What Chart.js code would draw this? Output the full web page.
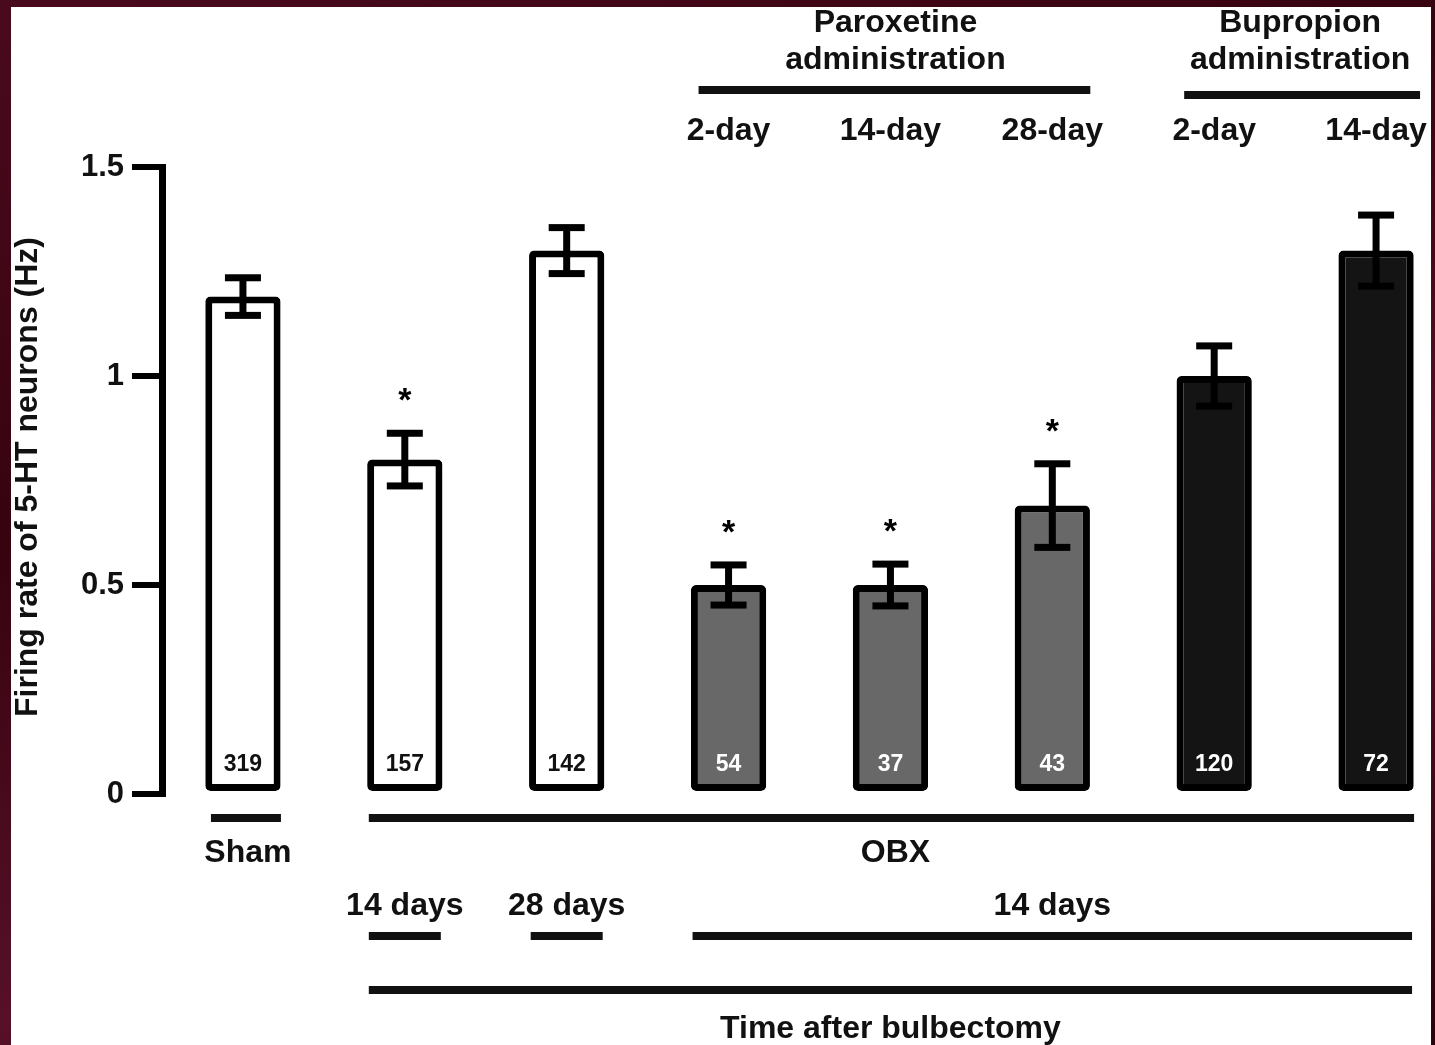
<!DOCTYPE html>
<html>
<head>
<meta charset="utf-8">
<script src="https://cdn.jsdelivr.net/npm/chart.js@4"></script>
<style>
  html, body {
    margin: 0;
    padding: 0;
    width: 1435px;
    height: 1045px;
    overflow: hidden;
    background: linear-gradient(160deg, #4a0a1e 0%, #37030f 35%, #561028 65%, #2c020c 100%);
  }
  #panel {
    position: absolute;
    left: 11px;
    top: 7px;
    width: 1420px;
    height: 1038px;
    background: #fff;
    overflow: hidden;
  }
  canvas { display: block; }
</style>
</head>
<body>
<div id="panel"><canvas id="myChart" width="1460" height="1038" style="width:1460px;height:1038px"></canvas></div>
<script>
// groups along the x axis
const groups = ["Sham", "OBX 14 days", "OBX 28 days", "Paroxetine 2-day", "Paroxetine 14-day", "Paroxetine 28-day", "Bupropion 2-day", "Bupropion 14-day"];
const treatment = ["none", "none", "none", "paroxetine", "paroxetine", "paroxetine", "bupropion", "bupropion"];
const firingRate = [1.19, 0.80, 1.30, 0.50, 0.50, 0.69, 1.00, 1.30];
const sem = [0.045, 0.063, 0.055, 0.048, 0.05, 0.10, 0.072, 0.085];
const neuronCount = [319, 157, 142, 54, 37, 43, 120, 72];
const significant = [false, true, false, true, true, true, false, false];
const durationLabels = ["", "", "", "2-day", "14-day", "28-day", "2-day", "14-day"];
const yTicks = [0, 0.5, 1, 1.5];

// bracket labels: [text lines, first group, last group]
const drugBrackets = [[["Paroxetine", "administration"], 3, 5], [["Bupropion", "administration"], 6, 7]];
const surgeryBrackets = [["Sham", 0, 0], ["OBX", 1, 7]];
const timeBrackets = [["14 days", 1, 1], ["28 days", 2, 2], ["14 days", 3, 7]];
const timeTitle = ["Time after bulbectomy", 1, 7];

const fills = { none: "#ffffff", paroxetine: "#686868", bupropion: "#141414" };
const FONT = "Liberation Sans, Arial, sans-serif";

function hline(ctx, x1, x2, y, w) {
  ctx.fillRect(x1, y - w / 2, x2 - x1, w);
}

const annotations = {
  id: "annotations",
  afterDatasetsDraw(chart) {
    const ctx = chart.ctx;
    const yScale = chart.scales.y;
    const bars = chart.getDatasetMeta(0).data;
    const cx = i => bars[i].x;
    const half = 36;

    ctx.save();
    ctx.fillStyle = "#000";

    // error bars
    firingRate.forEach((v, i) => {
      const top = yScale.getPixelForValue(v + sem[i]);
      const bot = yScale.getPixelForValue(v - sem[i]);
      ctx.fillRect(cx(i) - 3.5, top, 7, bot - top);
      hline(ctx, cx(i) - 18, cx(i) + 18, top, 7);
      hline(ctx, cx(i) - 18, cx(i) + 18, bot, 7);
    });

    // significance stars
    ctx.font = "bold 34px " + FONT;
    ctx.textAlign = "center";
    ctx.textBaseline = "alphabetic";
    significant.forEach((s, i) => {
      if (!s) return;
      const y = yScale.getPixelForValue(firingRate[i] + sem[i] + 0.1);
      ctx.fillText("*", cx(i), y + 20);
    });

    // neuron counts inside bars
    ctx.font = "bold 23px " + FONT;
    ctx.textBaseline = "middle";
    neuronCount.forEach((n, i) => {
      ctx.fillStyle = treatment[i] === "none" ? "#111" : "#fff";
      ctx.fillText(String(n), cx(i), yScale.getPixelForValue(0.07));
    });
    ctx.fillStyle = "#111";

    // drug administration brackets (top)
    ctx.font = "bold 32px " + FONT;
    drugBrackets.forEach(([lines, a, b], k) => {
      const mid = (cx(a) + cx(b)) / 2 + 5;
      ctx.fillText(lines[0], mid, 16);
      ctx.fillText(lines[1], mid, 53);
      hline(ctx, cx(a) - half + 6, cx(b) + half + (k ? 8 : 2), k ? 88 : 83, 8);
    });
    durationLabels.forEach((t, i) => {
      if (t) ctx.fillText(t, cx(i), 124);
    });

    // surgery brackets
    surgeryBrackets.forEach(([t, a, b]) => {
      hline(ctx, cx(a) - half + (a ? 0 : 4), cx(b) + half + 2, 811, 8);
      ctx.fillText(t, (cx(a) + cx(b)) / 2 + 5, 846);
    });

    // time after surgery
    timeBrackets.forEach(([t, a, b]) => {
      ctx.fillText(t, (cx(a) + cx(b)) / 2, 899);
      hline(ctx, cx(a) - half, cx(b) + half, 929, 8);
    });
    hline(ctx, cx(timeTitle[1]) - half, cx(timeTitle[2]) + half, 983, 8);
    ctx.fillText(timeTitle[0], (cx(timeTitle[1]) + cx(timeTitle[2])) / 2, 1022);

    // y axis title
    ctx.translate(17, 470);
    ctx.rotate(-Math.PI / 2);
    ctx.fillText("Firing rate of 5-HT neurons (Hz)", 0, 0);
    ctx.restore();
  }
};

const ctx = document.getElementById("myChart").getContext("2d");

const chart = new Chart(ctx, {
  type: "bar",
  data: {
    labels: groups,
    datasets: [{
      data: firingRate,
      backgroundColor: treatment.map(t => fills[t]),
      borderColor: "#000",
      borderWidth: 7,
      borderRadius: 5,
      borderSkipped: false,
      barPercentage: 0.465,
      categoryPercentage: 1
    }]
  },
  options: {
    responsive: false,
    animation: false,
    layout: { padding: { top: 160, bottom: 251, left: 0, right: 14 } },
    plugins: { legend: { display: false }, tooltip: { enabled: false } },
    scales: {
      x: { display: false },
      y: {
        min: 0,
        max: 1.5,
        afterBuildTicks: s => { s.ticks = yTicks.map(v => ({ value: v })); },
        afterFit: s => { s.width = 151; },
        border: { display: true, width: 7, color: "#000" },
        grid: { drawOnChartArea: false, drawTicks: true, tickLength: 30, lineWidth: 6, color: "#000" },
        ticks: {
          font: { family: FONT, weight: "bold", size: 31 },
          color: "#111",
          padding: 8,
          callback: v => String(v)
        }
      }
    }
  },
  plugins: [annotations]
});
</script>
</body>
</html>
